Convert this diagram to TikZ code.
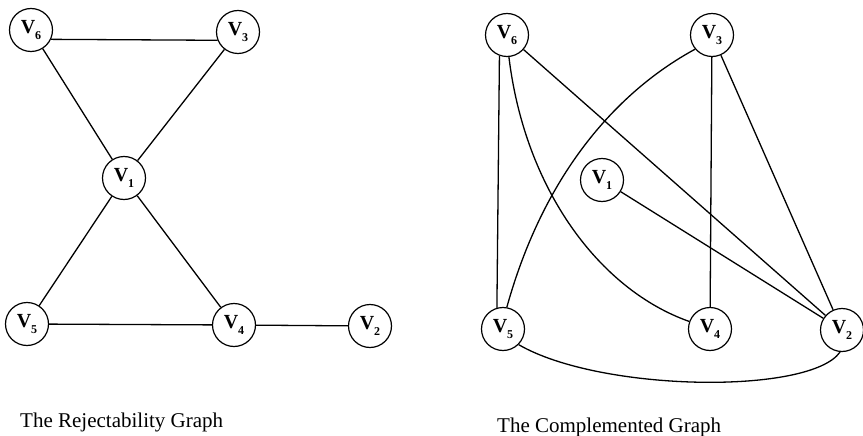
\documentclass[tikz,border=0pt]{standalone}
\usepackage{fontspec}
\setmainfont{Liberation Serif}
\newcommand{\vlab}[1]{\textbf{V}\raisebox{-0.28em}{\fontsize{12}{12}\selectfont\textbf{#1}}}
\begin{document}
\begin{tikzpicture}[x=1pt,y=-1pt,
  vtx/.style={circle,draw,line width=1.2pt,minimum size=43pt,inner sep=0pt,font=\fontsize{20}{22}\selectfont},
  edge/.style={line width=1.3pt},
  ttl/.style={anchor=base west,inner sep=0pt,font=\fontsize{21}{24}\selectfont}]
\useasboundingbox (0,0) rectangle (863,436);
% left graph
\node[vtx] (a6) at (31,30) {\vlab{6}};
\node[vtx] (a3) at (238,32) {\vlab{3}};
\node[vtx] (a1) at (124,178) {\vlab{1}};
\node[vtx] (a5) at (27,324) {\vlab{5}};
\node[vtx] (a4) at (234,325) {\vlab{4}};
\node[vtx] (a2) at (370,326) {\vlab{2}};
\draw[edge] (a6.-25) -- (a3.202);
\draw[edge] (a6) -- (a1);
\draw[edge] (a3) -- (a1);
\draw[edge] (a1) -- (a5);
\draw[edge] (a1) -- (a4);
\draw[edge] (a5) -- (a4);
\draw[edge] (a4) -- (a2);
\node[ttl] (t1) at (20,427) {The Rejectability Graph};
% right graph
\node[vtx] (b6) at (507,35) {\vlab{6}};
\node[vtx] (b3) at (712,35) {\vlab{3}};
\node[vtx] (b1) at (602,180) {\vlab{1}};
\node[vtx] (b5) at (503,329) {\vlab{5}};
\node[vtx] (b4) at (710,329) {\vlab{4}};
\node[vtx] (b2) at (842,330) {\vlab{2}};
\draw[edge] (b6.250) -- (b5.106);
\draw[edge] (b6.275) .. controls (525,190) and (600,290) .. (b4.160);
\draw[edge] (b6) -- (b2);
\draw[edge] (b3.220) .. controls (620,90) and (545,170) .. (b5.80);
\draw[edge] (b3) -- (b4);
\draw[edge] (b3) -- (b2);
\draw[edge] (b1) -- (b2);
\draw[edge] (b5.-45) .. controls (600,392) and (810,395) .. (b2.-95);
\node[ttl] (t2) at (497,432) {The Complemented Graph};
\end{tikzpicture}
\end{document}
